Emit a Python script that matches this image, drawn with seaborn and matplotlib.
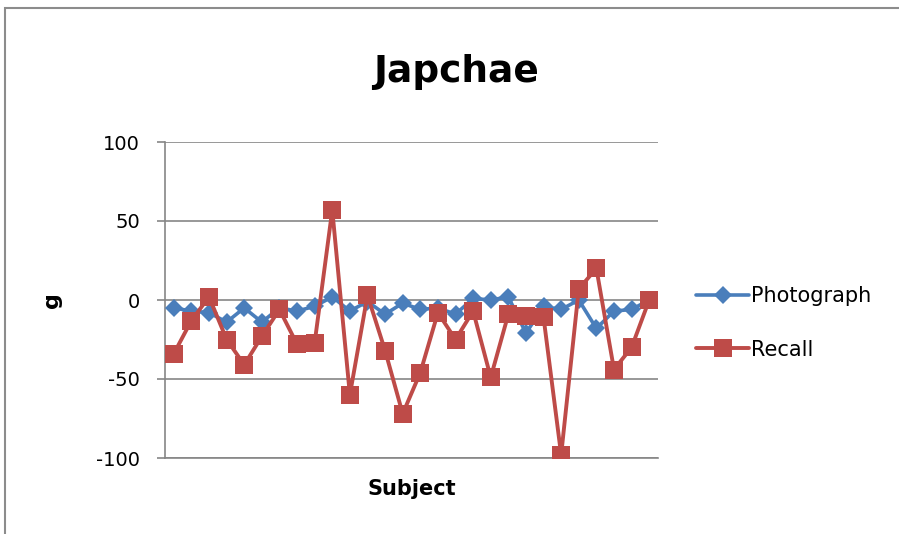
import matplotlib
matplotlib.use("Agg")
import matplotlib.pyplot as plt
import seaborn as sns
import pandas as pd
from matplotlib.patches import Rectangle

# values, one per subject
subjects = list(range(1, 29))
photograph = [-5, -7, -8, -14, -5, -14, -5, -7, -4, 2, -7, -1, -9, -2,
              -6, -5, -9, 1, 0, 2, -21, -4, -6, 0, -18, -7, -6, 0]
recall = [-34, -13, 2, -25, -41, -23, -6, -28, -27, 57, -60, 3, -32, -72,
          -46, -8, -25, -7, -49, -9, -10, -11, -98, 7, 20, -44, -30, 0]
y_ticks = [-100, -50, 0, 50, 100]

df = pd.DataFrame({"Subject": subjects, "Photograph": photograph, "Recall": recall})

sns.set_style("white")
plt.rcParams["font.family"] = ["DejaVu Sans"]
plt.rcParams["axes.unicode_minus"] = False
plt.rcParams["text.color"] = "black"
plt.rcParams["axes.labelcolor"] = "black"
plt.rcParams["ytick.labelcolor"] = "black"

fig = plt.figure(figsize=(8.99, 5.34), dpi=100)
ax = fig.add_axes([165 / 899, 1 - 458 / 534, (658 - 165) / 899, (458 - 142) / 534])

# outer chart border like the excel frame
fig.patches.append(Rectangle((5 / 899, -0.1), 1.2, 1 - 8 / 534 + 0.1,
                             transform=fig.transFigure, fill=False,
                             edgecolor="#8c8c8c", linewidth=1.5))

blue = "#4A7EBB"
red = "#BE4B48"
sns.lineplot(data=df, x="Subject", y="Photograph", ax=ax, color=blue, lw=2.6,
             marker="D", markersize=9, markeredgewidth=0, label="Photograph", zorder=3)
sns.lineplot(data=df, x="Subject", y="Recall", ax=ax, color=red, lw=2.8,
             marker="s", markersize=13, markeredgewidth=0, label="Recall", zorder=4)

ax.set_xlim(0.5, 28.5)
ax.set_ylim(-100, 100)
ax.set_yticks(y_ticks)
ax.set_xticks([])
ax.yaxis.grid(True, color="#868686", linewidth=1.2)
ax.set_axisbelow(True)
for s in ["top", "right"]:
    ax.spines[s].set_visible(False)
for s in ["left", "bottom"]:
    ax.spines[s].set_color("#868686")
    ax.spines[s].set_linewidth(1.2)
ax.tick_params(axis="y", direction="out", length=6, width=1.2, color="#868686",
               labelsize=14, pad=12, left=True, labelcolor="black")

ax.set_xlabel("Subject", fontsize=15, fontweight="bold", labelpad=15)
ax.set_ylabel("g", fontsize=16, fontweight="bold")
ax.yaxis.set_label_coords((62 - 165) / 493, 0.5)
fig.text(456 / 899, 1 - 72 / 534, "Japchae", ha="center", va="center",
         fontsize=27, fontweight="bold")

ax.legend(loc="center left", bbox_to_anchor=(1.04, (458 - 323) / 316), frameon=False,
          fontsize=15, handlelength=2.5, handletextpad=0.1, labelspacing=1.6)

fig.savefig("out.png", dpi=100)
